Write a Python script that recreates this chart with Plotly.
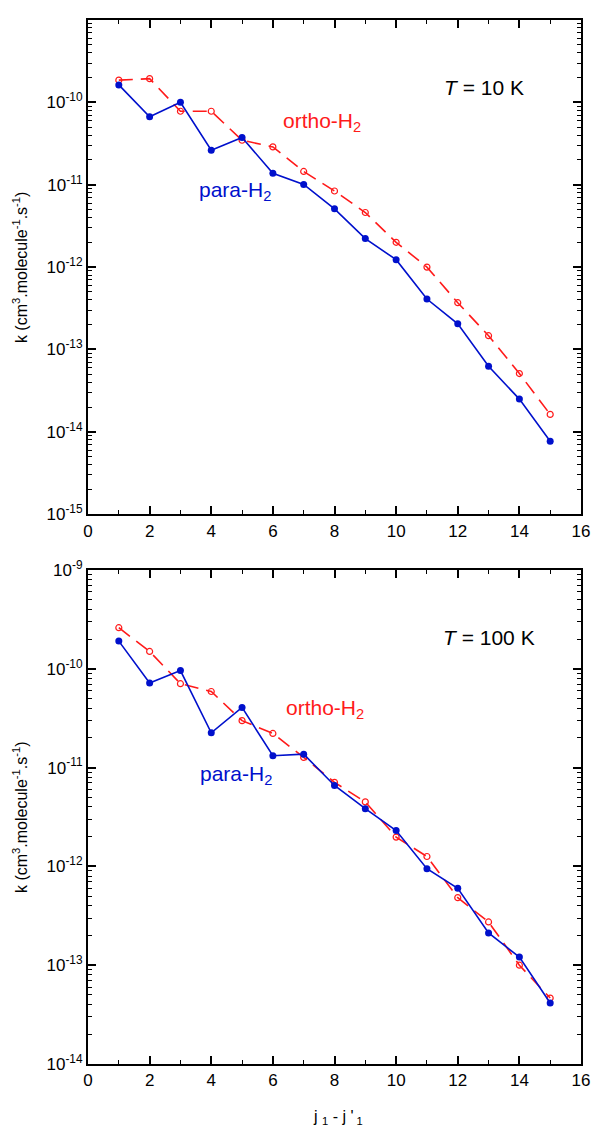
import plotly.graph_objects as go
from plotly.subplots import make_subplots

j = list(range(1, 16))

para_10K = [1.63e-10, 6.7e-11, 1.0e-10, 2.63e-11, 3.74e-11, 1.38e-11, 1.01e-11, 5.1e-12,
            2.22e-12, 1.23e-12, 4.1e-13, 2.05e-13, 6.25e-14, 2.5e-14, 7.7e-15]
ortho_10K = [1.86e-10, 1.94e-10, 7.8e-11, 7.8e-11, 3.47e-11, 2.88e-11, 1.45e-11, 8.4e-12,
             4.6e-12, 2.0e-12, 1.0e-12, 3.7e-13, 1.47e-13, 5.1e-14, 1.63e-14]
para_100K = [1.91e-10, 7.2e-11, 9.6e-11, 2.25e-11, 4.07e-11, 1.32e-11, 1.37e-11, 6.6e-12,
             3.84e-12, 2.31e-12, 9.5e-13, 6.0e-13, 2.12e-13, 1.21e-13, 4.14e-14]
ortho_100K = [2.61e-10, 1.5e-10, 7.08e-11, 5.9e-11, 2.99e-11, 2.22e-11, 1.27e-11, 7.1e-12,
              4.5e-12, 1.98e-12, 1.26e-12, 4.83e-13, 2.74e-13, 1.0e-13, 4.65e-14]

BLUE = "#0010CC"
RED = "#FF1A1A"
FONT = "Liberation Sans, Arial, sans-serif"

fig = make_subplots(rows=2, cols=1, vertical_spacing=0.0535)

panels = [(1, para_10K, ortho_10K, -15, -9, False), (2, para_100K, ortho_100K, -14, -9, True)]
for row, para, ortho, lo, hi, label_top in panels:
    fig.add_trace(go.Scatter(x=j, y=ortho, mode="lines+markers",
                             line=dict(color=RED, width=1.6, dash="14px,8px"),
                             marker=dict(symbol="circle-open", size=6, color=RED,
                                         line=dict(width=1.2, color=RED)),
                             showlegend=False), row=row, col=1)
    fig.add_trace(go.Scatter(x=j, y=para, mode="lines+markers",
                             line=dict(color=BLUE, width=1.6),
                             marker=dict(symbol="circle", size=7, color=BLUE),
                             showlegend=False), row=row, col=1)
    decades = list(range(lo, hi + 1))
    tickvals = [10.0 ** d for d in decades]
    ticktext = ["10<sup>%d</sup>" % d for d in decades]
    if not label_top:
        ticktext[-1] = ""
    minor_vals = [m * 10.0 ** d for d in decades[:-1] for m in range(2, 10)]
    fig.update_yaxes(type="log", range=[lo, hi], tickvals=tickvals, ticktext=ticktext,
                     ticks="inside", ticklen=8, tickwidth=1.5, tickcolor="black",
                     showgrid=False, zeroline=False, showline=True, linecolor="black",
                     linewidth=2, mirror="allticks",
                     minor=dict(tickvals=minor_vals, ticks="inside", ticklen=4,
                                tickwidth=1, tickcolor="black", showgrid=False),
                     tickfont=dict(size=17, color="black", family=FONT),
                     row=row, col=1)
    fig.update_xaxes(range=[0, 16], tickvals=list(range(0, 17, 2)),
                     ticks="inside", ticklen=8, tickwidth=1.5, tickcolor="black",
                     showgrid=False, zeroline=False, showline=True, linecolor="black",
                     linewidth=2, mirror="allticks",
                     minor=dict(tickvals=list(range(1, 16, 2)), ticks="inside", ticklen=4,
                                tickwidth=1, tickcolor="black", showgrid=False),
                     tickfont=dict(size=17, color="black", family=FONT),
                     row=row, col=1)

fig.update_yaxes(domain=[0.5266, 1.0], row=1, col=1)
fig.update_yaxes(domain=[0.0, 0.4731], row=2, col=1)

ytitle = "k (cm<sup>3</sup>.molecule<sup>-1</sup>.s<sup>-1</sup>)"
ann = [
    # y titles
    dict(text=ytitle, xref="paper", yref="paper", x=0, y=(0.5266 + 1) / 2, xshift=-68,
         textangle=-90, showarrow=False, xanchor="center", yanchor="middle",
         font=dict(size=16, color="black", family=FONT)),
    dict(text=ytitle, xref="paper", yref="paper", x=0, y=0.4731 / 2, xshift=-68,
         textangle=-90, showarrow=False, xanchor="center", yanchor="middle",
         font=dict(size=16, color="black", family=FONT)),
    # x title
    dict(text="j <sub>1</sub> - j '<sub> 1</sub>", xref="paper", yref="paper", x=0.508, y=0,
         yshift=-53, showarrow=False, xanchor="center", yanchor="middle",
         font=dict(size=16, color="black", family=FONT)),
    # panel labels
    dict(text="<i>T</i> = 10 K", xref="x", yref="y", x=11.48, y=-9.82, showarrow=False,
         xanchor="left", yanchor="middle", font=dict(size=21, color="black", family=FONT)),
    dict(text="ortho-H<sub>2</sub>", xref="x", yref="y", x=6.25, y=-10.24, showarrow=False,
         xanchor="left", yanchor="middle", font=dict(size=21, color=RED, family=FONT)),
    dict(text="para-H<sub>2</sub>", xref="x", yref="y", x=3.53, y=-11.07, showarrow=False,
         xanchor="left", yanchor="middle", font=dict(size=21, color=BLUE, family=FONT)),
    dict(text="<i>T</i> = 100 K", xref="x2", yref="y2", x=11.45, y=-9.687, showarrow=False,
         xanchor="left", yanchor="middle", font=dict(size=21, color="black", family=FONT)),
    dict(text="ortho-H<sub>2</sub>", xref="x2", yref="y2", x=6.35, y=-10.41, showarrow=False,
         xanchor="left", yanchor="middle", font=dict(size=21, color=RED, family=FONT)),
    dict(text="para-H<sub>2</sub>", xref="x2", yref="y2", x=3.56, y=-11.07, showarrow=False,
         xanchor="left", yanchor="middle", font=dict(size=21, color=BLUE, family=FONT)),
]

fig.update_layout(width=598, height=1132, margin=dict(l=88, r=11, t=8, b=68),
                  plot_bgcolor="white", paper_bgcolor="white", annotations=ann,
                  font=dict(family=FONT, color="black"))

fig.write_html("out.html")
